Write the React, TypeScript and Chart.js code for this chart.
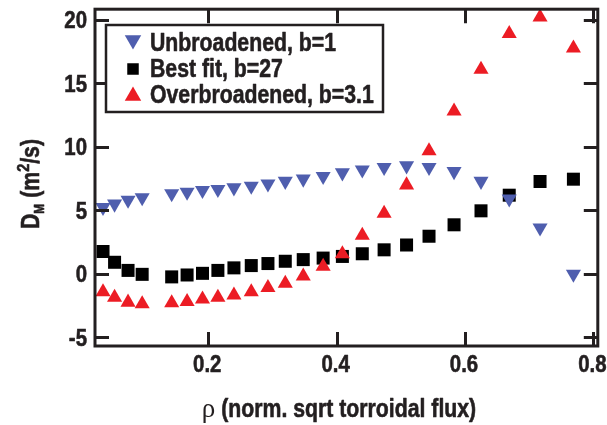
import React, { useEffect, useRef } from 'react';
import { Chart, registerables } from 'chart.js';

Chart.register(...registerables);

// ---- data ----
const rho = [0.036, 0.054, 0.075, 0.097, 0.143, 0.167, 0.191, 0.215, 0.24, 0.267, 0.293, 0.32, 0.348, 0.379, 0.409, 0.44, 0.474, 0.509, 0.544, 0.583, 0.625, 0.669, 0.717, 0.769];
const unbroadened = [5.23, 5.49, 5.8, 6.0, 6.3, 6.43, 6.57, 6.64, 6.77, 6.9, 7.07, 7.28, 7.46, 7.67, 7.95, 8.18, 8.38, 8.5, 8.38, 8.05, 7.28, 5.9, 3.61, -0.03];
const bestFit = [1.75, 0.9, 0.26, -0.05, -0.25, -0.1, 0.03, 0.26, 0.46, 0.64, 0.8, 0.98, 1.11, 1.23, 1.36, 1.57, 1.88, 2.26, 2.95, 3.85, 4.95, 6.18, 7.26, 7.44];
const overbroadened = [-1.43, -1.87, -2.25, -2.38, -2.3, -2.2, -2.0, -1.87, -1.69, -1.43, -1.1, -0.77, -0.2, 0.57, 1.55, 3.01, 4.75, 6.98, 9.67, 12.8, 16.08, 18.9, 20.19, 17.75];
const seriesLabels = ['Unbroadened, b=1', 'Best fit, b=27', 'Overbroadened, b=3.1'];
const xTicks = [0.2, 0.4, 0.6, 0.8];
const xTickLabels = ['0.2', '0.4', '0.6', '0.8'];
const yTicks = [-5, 0, 5, 10, 15, 20];
const yTickLabels = ['-5', '0', '5', '10', '15', '20'];
const xTitleSymbol = 'ρ';
const xTitleText = ' (norm. sqrt torroidal flux)';

const BLUE = '#4f5eae';
const BLACK = '#000000';
const RED = '#ec1c24';
const INK = '#231f20';
const FAMILY = "'Liberation Sans', Arial, sans-serif";
const SX = 0.85; // horizontal condensation (Helvetica Condensed look)

const toPts = (ys: number[]) => ys.map((y, i) => ({ x: rho[i], y }));

function condText(ctx: CanvasRenderingContext2D, text: string, x: number, y: number, font: string, align: CanvasTextAlign, sx = SX, stroke = 0.6) {
  ctx.save();
  ctx.font = font;
  ctx.textAlign = align;
  ctx.textBaseline = 'alphabetic';
  ctx.translate(x, y);
  ctx.scale(sx, 1);
  ctx.fillText(text, 0, 0);
  if (stroke > 0) {
    ctx.strokeStyle = ctx.fillStyle;
    ctx.lineWidth = stroke;
    ctx.lineJoin = 'round';
    ctx.strokeText(text, 0, 0);
  }
  ctx.restore();
}

const decorPlugin = {
  id: 'decor',
  afterDraw(chart: any) {
    const { ctx, chartArea } = chart;
    const { left, right, top, bottom } = chartArea;
    const xs = chart.scales.x;
    const ys = chart.scales.y;
    ctx.save();
    // frame
    ctx.strokeStyle = INK;
    ctx.lineWidth = 3;
    ctx.strokeRect(left, top, right - left, bottom - top);
    // inward ticks
    const tl = 14;
    ctx.beginPath();
    xTicks.forEach((v) => {
      const px = Math.round(xs.getPixelForValue(v)) + 0.5;
      ctx.moveTo(px, bottom);
      ctx.lineTo(px, bottom - tl);
      ctx.moveTo(px, top);
      ctx.lineTo(px, top + tl);
    });
    yTicks.forEach((v) => {
      const py = Math.round(ys.getPixelForValue(v)) + 0.5;
      ctx.moveTo(left, py);
      ctx.lineTo(left + tl, py);
      ctx.moveTo(right, py);
      ctx.lineTo(right - tl, py);
    });
    ctx.stroke();

    // tick labels
    ctx.fillStyle = INK;
    const tickFont = `bold 24px ${FAMILY}`;
    yTicks.forEach((v, i) => {
      const py = ys.getPixelForValue(v);
      condText(ctx, yTickLabels[i], 87, py + 8.5, tickFont, 'right');
    });
    xTicks.forEach((v, i) => {
      const px = xs.getPixelForValue(v);
      condText(ctx, xTickLabels[i], px - 1, 372, tickFont, 'center');
    });

    // legend
    const lx = 106, ly = 25, lw = 277, lh = 87;
    ctx.fillStyle = '#ffffff';
    ctx.fillRect(lx, ly, lw, lh);
    ctx.strokeStyle = INK;
    ctx.lineWidth = 2.5;
    ctx.strokeRect(lx, ly, lw, lh);
    const rows = [42, 68, 94];
    const colors = [BLUE, BLACK, RED];
    rows.forEach((ry, i) => {
      const mx = 133;
      ctx.fillStyle = colors[i];
      ctx.beginPath();
      if (i === 1) {
        const s = 11.5;
        ctx.rect(mx - s / 2, ry - s / 2 + 1, s, s);
      } else {
        const r = 9.5;
        const dir = i === 0 ? 1 : -1;
        const cy = ry + 2 * (i === 0 ? -1 : 1);
        ctx.moveTo(mx, cy + dir * r);
        ctx.lineTo(mx - r * 0.866, cy - dir * r * 0.5);
        ctx.lineTo(mx + r * 0.866, cy - dir * r * 0.5);
        ctx.closePath();
      }
      ctx.fill();
      ctx.fillStyle = INK;
      condText(ctx, seriesLabels[i], 150, ry + 9, `bold 25px ${FAMILY}`, 'left');
    });

    // x title
    ctx.fillStyle = INK;
    const symFont = `27px 'Liberation Serif', 'DejaVu Serif', serif`;
    const txtFont = `bold 25px ${FAMILY}`;
    ctx.font = symFont;
    const w1 = ctx.measureText(xTitleSymbol).width;
    ctx.font = txtFont;
    const w2 = ctx.measureText(xTitleText).width * SX;
    const startX = 339 - (w1 + w2) / 2;
    const baseY = 417;
    condText(ctx, xTitleSymbol, startX, baseY, symFont, 'left', 1, 0);
    condText(ctx, xTitleText, startX + w1, baseY, txtFont, 'left');

    // y title (rotated, with sub/superscripts)
    const parts = [
      { t: 'D', size: 25, dy: 0 },
      { t: 'M', size: 14, dy: 5 },
      { t: ' (m', size: 25, dy: 0 },
      { t: '2', size: 17, dy: -10 },
      { t: '/s)', size: 25, dy: 0 },
    ];
    let total = 0;
    const widths = parts.map((p) => {
      ctx.font = `bold ${p.size}px ${FAMILY}`;
      const w = ctx.measureText(p.t).width * SX;
      total += w;
      return w;
    });
    ctx.translate(30, 184);
    ctx.rotate(-Math.PI / 2);
    let cx = -total / 2;
    parts.forEach((p, i) => {
      condText(ctx, p.t, cx, 9 + p.dy, `bold ${p.size}px ${FAMILY}`, 'left');
      cx += widths[i];
    });
    ctx.restore();
  },
};

export default function App() {
  const ref = useRef<HTMLCanvasElement | null>(null);
  useEffect(() => {
    document.body.style.margin = '0';
    if (!ref.current) return;
    const chart = new Chart(ref.current, {
      type: 'scatter',
      data: {
        datasets: [
          {
            label: seriesLabels[0],
            data: toPts(unbroadened),
            pointStyle: 'triangle',
            rotation: 180,
            pointRadius: 8.7,
            backgroundColor: BLUE,
            borderColor: BLUE,
            borderWidth: 0,
            order: 0,
          },
          {
            label: seriesLabels[1],
            data: toPts(bestFit),
            pointStyle: 'rect',
            pointRadius: 9.2,
            backgroundColor: BLACK,
            borderColor: BLACK,
            borderWidth: 0,
            order: 2,
          },
          {
            label: seriesLabels[2],
            data: toPts(overbroadened),
            pointStyle: 'triangle',
            pointRadius: 8.7,
            backgroundColor: RED,
            borderColor: RED,
            borderWidth: 0,
            order: 1,
          },
        ],
      },
      options: {
        responsive: false,
        animation: false,
        devicePixelRatio: 1,
        clip: false as any,
        layout: { padding: { top: 2, right: 9, left: 0, bottom: 0 } },
        plugins: { legend: { display: false }, tooltip: { enabled: false } },
        scales: {
          x: {
            type: 'linear',
            min: 0.0235,
            max: 0.807,
            grid: { display: false, drawTicks: false },
            border: { display: false },
            ticks: { display: false },
            afterBuildTicks: (s: any) => {
              s.ticks = xTicks.map((v) => ({ value: v }));
            },
            afterFit: (s: any) => {
              s.height = 79;
              s.paddingLeft = 0;
              s.paddingRight = 0;
            },
          },
          y: {
            type: 'linear',
            min: -5.69,
            max: 20.82,
            grid: { display: false, drawTicks: false },
            border: { display: false },
            ticks: { display: false },
            afterBuildTicks: (s: any) => {
              s.ticks = yTicks.map((v) => ({ value: v }));
            },
            afterFit: (s: any) => {
              s.width = 95;
              s.paddingTop = 0;
              s.paddingBottom = 0;
            },
          },
        },
      },
      plugins: [decorPlugin],
    });
    return () => chart.destroy();
  }, []);
  return (
    <div style={{ position: 'absolute', left: 0, top: 0, width: 607, height: 425, background: '#fff' }}>
      <canvas ref={ref} width={607} height={425} />
    </div>
  );
}
